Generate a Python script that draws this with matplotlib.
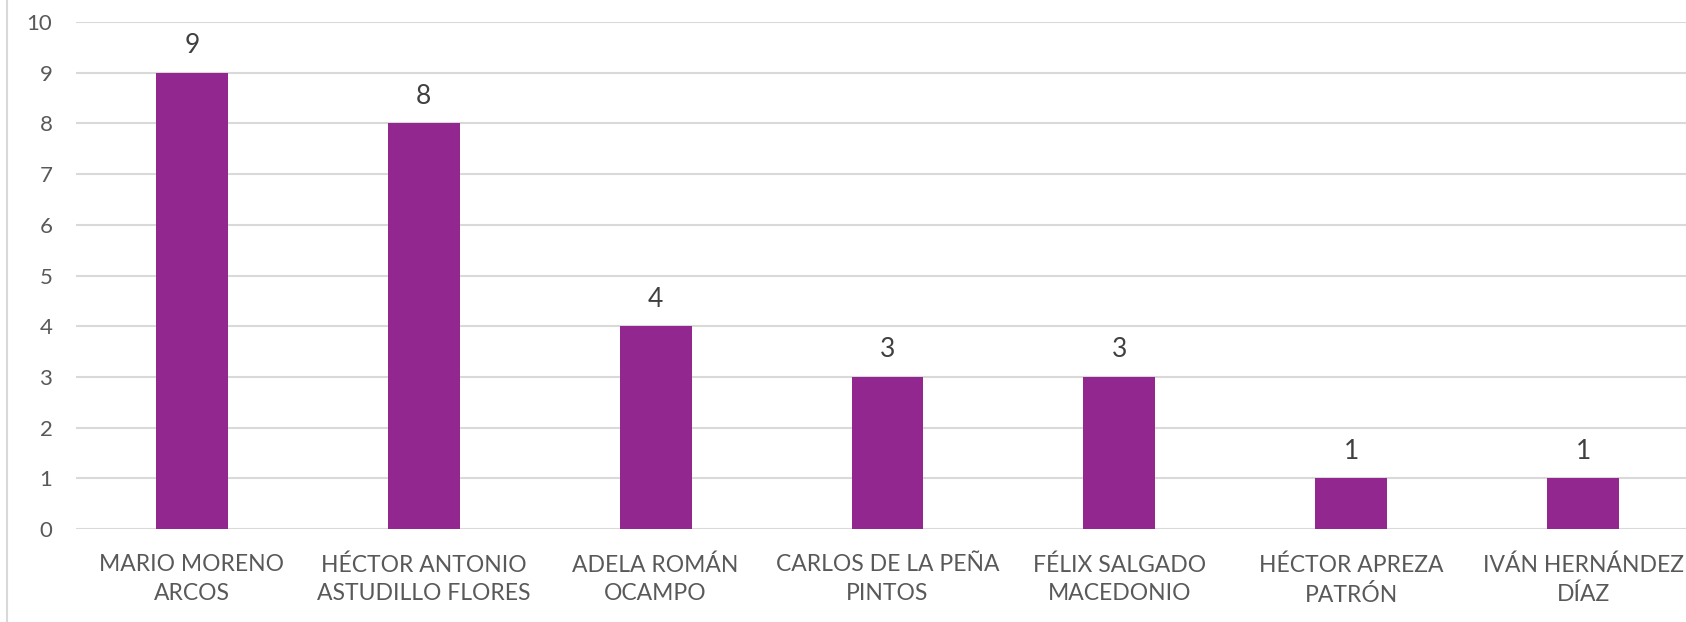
import matplotlib.pyplot as plt
from matplotlib.lines import Line2D

names = ["MARIO MORENO\nARCOS", "HÉCTOR ANTONIO\nASTUDILLO FLORES", "ADELA ROMÁN\nOCAMPO",
         "CARLOS DE LA PEÑA\nPINTOS", "FÉLIX SALGADO\nMACEDONIO", "HÉCTOR APREZA\nPATRÓN",
         "IVÁN HERNÁNDEZ\nDÍAZ"]
counts = [9, 8, 4, 3, 3, 1, 1]
yticks = list(range(0, 11))

plt.rcParams['font.family'] = ['Lato', 'DejaVu Sans']
txt = '#595959'

fig = plt.figure(figsize=(16.86, 6.22), dpi=100)
ax = fig.add_axes([76/1686, 93/622, 1 - 76/1686, (529 - 22)/622])

x = range(len(names))
bars = ax.bar(x, counts, width=0.31, color='#92278F', zorder=3)
for xi, v in zip(x, counts):
    ax.annotate(str(v), (xi, v), xytext=(0, 14), textcoords='offset points',
                ha='center', va='baseline', fontsize=19, color='#404040')

ax.set_xlim(-0.5, 6.444)
ax.set_ylim(0, 10)
ax.set_yticks(yticks)
ax.set_xticks(list(x))
ax.set_xticklabels(names, fontsize=16.5, color=txt, linespacing=1.45)
ax.tick_params(axis='y', labelsize=16, labelcolor=txt, length=0, pad=17)
ax.tick_params(axis='x', length=0, pad=18)
ax.grid(axis='y', color='#D9D9D9', linewidth=1.5, zorder=0)
for s in ax.spines.values():
    s.set_visible(False)

fig.add_artist(Line2D([7/1686, 7/1686], [0, 1], transform=fig.transFigure,
                      color='#D9D9D9', linewidth=1.5))

fig.savefig('out.png', dpi=100)
